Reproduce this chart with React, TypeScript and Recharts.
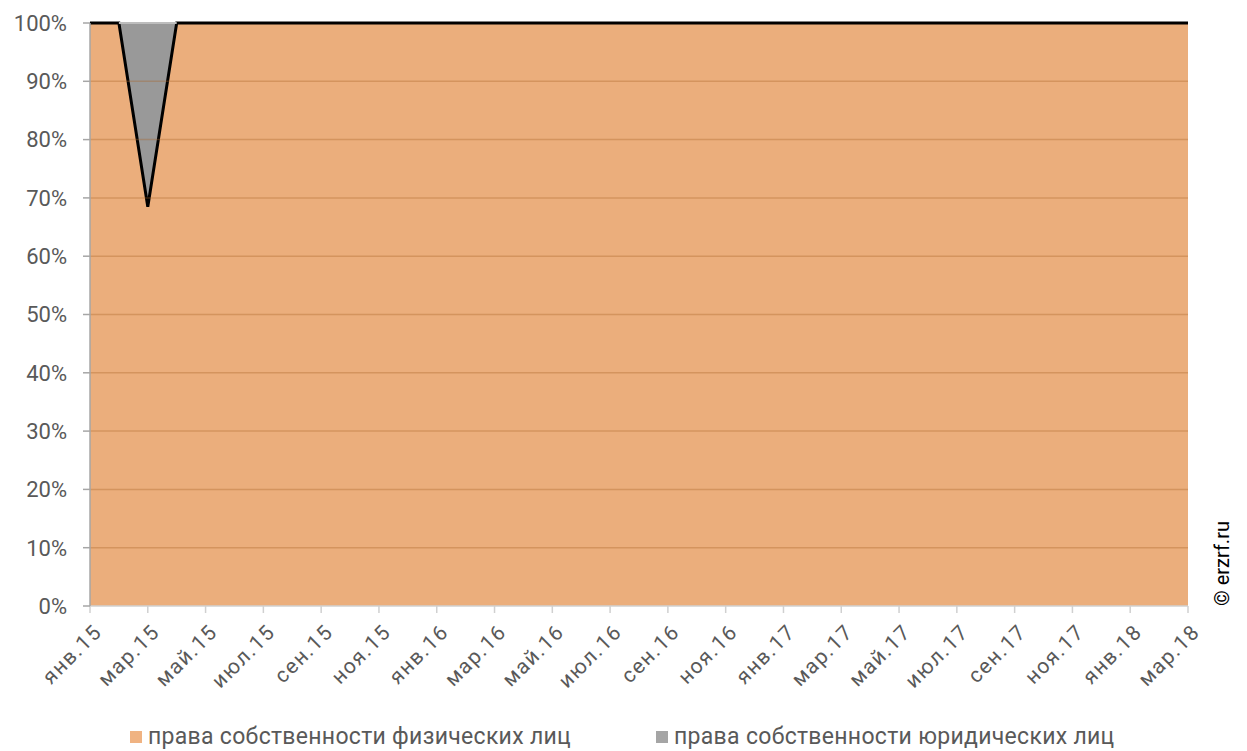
import {
  AreaChart,
  Area,
  XAxis,
  YAxis,
  ReferenceLine,
} from 'recharts';

const months = [
  'янв.15', 'фев.15', 'мар.15', 'апр.15', 'май.15', 'июн.15', 'июл.15', 'авг.15', 'сен.15', 'окт.15', 'ноя.15', 'дек.15',
  'янв.16', 'фев.16', 'мар.16', 'апр.16', 'май.16', 'июн.16', 'июл.16', 'авг.16', 'сен.16', 'окт.16', 'ноя.16', 'дек.16',
  'янв.17', 'фев.17', 'мар.17', 'апр.17', 'май.17', 'июн.17', 'июл.17', 'авг.17', 'сен.17', 'окт.17', 'ноя.17', 'дек.17',
  'янв.18', 'фев.18', 'мар.18',
];

// доля прав собственности физических лиц, %
const individuals = [
  100, 100, 68.5, 100, 100, 100, 100, 100, 100, 100, 100, 100,
  100, 100, 100, 100, 100, 100, 100, 100, 100, 100, 100, 100,
  100, 100, 100, 100, 100, 100, 100, 100, 100, 100, 100, 100,
  100, 100, 100,
];

// доля прав собственности юридических лиц, %
const legalEntities = [
  0, 0, 31.5, 0, 0, 0, 0, 0, 0, 0, 0, 0,
  0, 0, 0, 0, 0, 0, 0, 0, 0, 0, 0, 0,
  0, 0, 0, 0, 0, 0, 0, 0, 0, 0, 0, 0,
  0, 0, 0,
];

const yTicks = [0, 10, 20, 30, 40, 50, 60, 70, 80, 90, 100];
const gridLines = [10, 20, 30, 40, 50, 60, 70, 80, 90];

// юр. лица лежат поверх физ. лиц: диапазон [физ, физ + юр]
const data = months.map((m, i) => ({
  month: m,
  phys: individuals[i],
  legal: [individuals[i], individuals[i] + legalEntities[i]],
}));

const FONT = 'Roboto, sans-serif';

const MonthTick = (props: any) => {
  const { x, y, payload } = props;
  return (
    <g transform={`translate(${x + 2},${y + 7})`}>
      <text
        textAnchor="end"
        transform="rotate(-45)"
        dy="0.75em"
        fill="#595959"
        fontSize={21}
        fontFamily={FONT}
        letterSpacing={1.5}
      >
        {payload.value}
      </text>
    </g>
  );
};

export default function App() {
  return (
    <div style={{ position: 'absolute', left: 0, top: 0, width: 1247, height: 751, background: '#fff' }}>
      <AreaChart
        width={1247}
        height={751}
        data={data}
        margin={{ top: 23, right: 59, bottom: 0, left: 0 }}
      >
        <XAxis
          dataKey="month"
          interval={1}
          height={145}
          tick={<MonthTick />}
          tickSize={7}
          axisLine={{ stroke: '#d0d0d0', strokeWidth: 1.5 }}
          tickLine={{ stroke: '#d0d0d0', strokeWidth: 1.5 }}
        />
        <YAxis
          width={90}
          domain={[0, 100]}
          ticks={yTicks}
          interval={0}
          tickFormatter={(v) => `${v}%`}
          tickSize={7}
          tickMargin={16}
          tick={{ fill: '#595959', fontSize: 22, fontFamily: FONT }}
          axisLine={{ stroke: '#a6a6a6', strokeWidth: 1.5 }}
          tickLine={{ stroke: '#a6a6a6', strokeWidth: 1.5 }}
        />
        <Area
          type="linear"
          dataKey="legal"
          fill="#999999"
          fillOpacity={1}
          stroke="none"
          isAnimationActive={false}
        />
        <Area
          type="linear"
          dataKey="phys"
          fill="#EBAE7C"
          fillOpacity={1}
          stroke="#000"
          strokeWidth={3}
          isAnimationActive={false}
        />
        {gridLines.map((g) => (
          <ReferenceLine key={g} y={g} stroke="rgba(170,100,40,0.35)" strokeWidth={1.5} />
        ))}
        <ReferenceLine
          segment={[{ x: 'фев.15', y: 100 }, { x: 'апр.15', y: 100 }]}
          stroke="#bdbdbd"
          strokeWidth={2}
        />
      </AreaChart>

      <div
        style={{
          position: 'absolute',
          left: 130,
          top: 723,
          display: 'flex',
          alignItems: 'center',
          fontFamily: FONT,
          fontSize: 23,
          color: '#595959',
          whiteSpace: 'nowrap',
          letterSpacing: 0.3,
        }}
      >
        <span style={{ width: 12, height: 12, background: '#F0B382', marginRight: 6 }} />
        <span>права собственности физических лиц</span>
        <span style={{ width: 12, height: 12, background: '#A5A5A5', marginLeft: 85, marginRight: 6 }} />
        <span>права собственности юридических лиц</span>
      </div>

      <div
        style={{
          position: 'absolute',
          left: 1222,
          top: 606,
          transform: 'rotate(-90deg)',
          transformOrigin: '0 0',
          fontFamily: FONT,
          fontSize: 20,
          color: '#000',
          whiteSpace: 'nowrap',
          lineHeight: '22px',
          marginLeft: -11,
        }}
      >
        © erzrf.ru
      </div>
    </div>
  );
}
